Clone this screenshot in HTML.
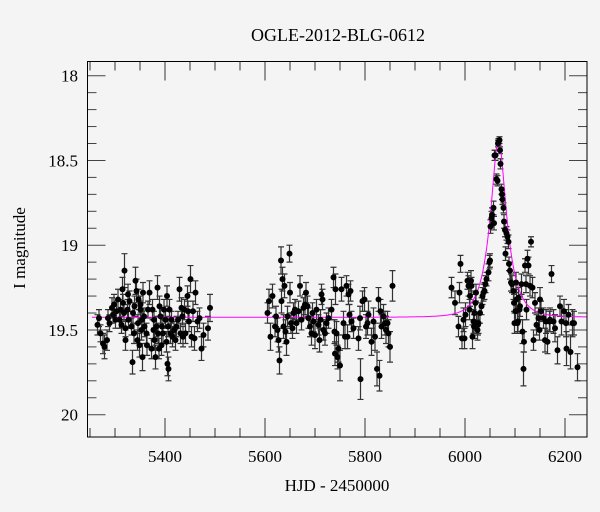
<!DOCTYPE html>
<html><head><meta charset="utf-8"><style>
html,body{margin:0;padding:0;background:#f4f4f4;}
svg{display:block;font-family:"Liberation Serif","DejaVu Serif",serif;}
</style></head><body>
<svg id="chart" width="600" height="512" viewBox="0 0 600 512">
<rect x="0" y="0" width="600" height="512" fill="#f4f4f4"/>
<text x="338" y="41" text-anchor="middle" font-size="18" fill="#000">OGLE-2012-BLG-0612</text>
<text x="337" y="491" text-anchor="middle" font-size="17" fill="#000">HJD - 2450000</text>
<text transform="translate(25,248) rotate(-90)" text-anchor="middle" font-size="17" fill="#000">I magnitude</text>
<g id="ticks"></g>
<g id="errs"></g>
<g id="model"></g>
<g id="pts"></g>
<rect x="87.5" y="61.5" width="499.5" height="375.5" fill="none" stroke="#000" stroke-width="1"/>
</svg>
<script>
const xTickLabels=[5400,5600,5800,6000,6200];
const yTickLabels=["18","18.5","19","19.5","20"];
const yTickValues=[18,18.5,19,19.5,20];
const modelParams={t0:6067,u0:0.405,tE:31,base:19.425};
const season1=[[5265,19.47,.06],[5268,19.43,.05],[5271,19.52,.05],[5276,19.58,.06],[5279,19.60,.07],[5284,19.56,.06],[5286,19.43,.05],[5289,19.46,.05],[5294,19.37,.06],[5296,19.41,.05],[5298,19.35,.06],[5301,19.44,.05],[5303,19.39,.06],[5306,19.32,.06],[5309,19.44,.05],[5311,19.38,.06],[5313,19.47,.05],[5315,19.26,.07],[5316,19.34,.05],[5318,19.40,.05],[5319,19.15,.1],[5321,19.49,.05],[5321,19.56,.06],[5325,19.38,.06],[5326,19.29,.06],[5327,19.44,.05],[5329,19.33,.06],[5333,19.48,.05],[5335,19.69,.07],[5336,19.40,.06],[5338,19.52,.06],[5339,19.36,.06],[5341,19.21,.08],[5343,19.27,.07],[5345,19.56,.06],[5346,19.46,.05],[5347,19.32,.06],[5349,19.59,.07],[5351,19.38,.05],[5351,19.35,.05],[5353,19.50,.06],[5354,19.44,.05],[5355,19.66,.08],[5356,19.28,.06],[5358,19.42,.05],[5359,19.48,.06],[5363,19.52,.06],[5364,19.59,.06],[5366,19.38,.05],[5369,19.28,.07],[5373,19.61,.06],[5375,19.38,.06],[5377,19.50,.06],[5378,19.44,.05],[5379,19.56,.06],[5381,19.66,.07],[5383,19.48,.06],[5385,19.25,.07],[5386,19.52,.06],[5388,19.61,.06],[5389,19.36,.06],[5391,19.42,.05],[5393,19.59,.06],[5394,19.48,.05],[5396,19.52,.06],[5398,19.38,.06],[5401,19.44,.05],[5403,19.57,.06],[5404,19.30,.06],[5405,19.70,.07],[5406,19.48,.06],[5407,19.73,.07],[5409,19.38,.06],[5411,19.52,.06],[5413,19.44,.05],[5415,19.54,.06],[5418,19.50,.05],[5421,19.56,.06],[5423,19.48,.06],[5426,19.44,.05],[5429,19.26,.07],[5431,19.52,.06],[5433,19.37,.06],[5435,19.42,.05],[5436,19.54,.06],[5439,19.38,.06],[5441,19.52,.06],[5445,19.30,.06],[5446,19.39,.06],[5448,19.45,.06],[5451,19.20,.08],[5453,19.54,.06],[5456,19.39,.06],[5459,19.55,.07],[5461,19.28,.07],[5465,19.45,.06],[5469,19.43,.06],[5473,19.61,.07],[5477,19.53,.07],[5486,19.49,.07],[5490,19.37,.08]];
const season2=[[5605,19.40,.06],[5608,19.33,.07],[5611,19.54,.08],[5615,19.30,.07],[5620,19.48,.06],[5622,19.42,.06],[5625,19.50,.07],[5627,19.56,.07],[5629,19.68,.08],[5632,19.09,.08],[5633,19.33,.07],[5635,19.20,.07],[5637,19.48,.07],[5639,19.24,.07],[5641,19.51,.07],[5643,19.57,.08],[5645,19.42,.06],[5649,19.05,.05],[5650,19.28,.06],[5652,19.46,.06],[5655,19.49,.06],[5657,19.40,.06],[5660,19.38,.06],[5663,19.46,.06],[5667,19.39,.06],[5670,19.24,.06],[5673,19.44,.06],[5677,19.37,.06],[5680,19.35,.06],[5682,19.28,.06],[5685,19.36,.06],[5687,19.43,.06],[5690,19.48,.06],[5693,19.52,.07],[5695,19.40,.06],[5697,19.45,.06],[5700,19.53,.08],[5703,19.38,.06],[5707,19.47,.06],[5709,19.56,.07],[5711,19.44,.06],[5713,19.29,.06],[5715,19.32,.06],[5717,19.50,.06],[5720,19.52,.07],[5723,19.46,.06],[5727,19.43,.06],[5733,19.38,.06],[5737,19.19,.06],[5739,19.51,.07],[5740,19.64,.07],[5741,19.26,.09],[5743,19.52,.07],[5745,19.66,.07],[5747,19.61,.08],[5750,19.71,.09],[5753,19.26,.07],[5757,19.46,.07],[5760,19.54,.07],[5763,19.24,.06],[5765,19.54,.07],[5767,19.29,.06],[5769,19.41,.06],[5771,19.27,.06],[5773,19.45,.06],[5777,19.49,.06],[5787,19.55,.07],[5790,19.43,.07],[5791,19.79,.12],[5795,19.33,.06],[5799,19.32,.07],[5802,19.48,.07],[5805,19.46,.07],[5807,19.41,.08],[5813,19.57,.08],[5817,19.45,.08],[5820,19.54,.08],[5824,19.73,.1],[5827,19.32,.07],[5829,19.77,.09],[5831,19.39,.07],[5833,19.48,.07],[5837,19.42,.07],[5840,19.46,.07],[5842,19.50,.08],[5845,19.46,.07],[5847,19.52,.08],[5850,19.60,.09],[5855,19.24,.09]];
const season3=[[5973,19.25,.06],[5980,19.34,.07],[5987,19.48,.06],[5989,19.28,.06],[5991,19.11,.05],[5994,19.55,.06],[5997,19.44,.07],[5999,19.55,.06],[6001,19.41,.07],[6005,19.21,.05],[6007,19.24,.06],[6009,19.38,.06],[6010,19.30,.06],[6012,19.21,.06],[6013,19.24,.05],[6015,19.54,.07],[6017,19.45,.07],[6018,19.48,.07],[6019,19.40,.06],[6021,19.34,.06],[6022,19.28,.05],[6023,19.46,.06],[6025,19.50,.06],[6026,19.47,.06],[6027,19.46,.06],[6030,19.40,.06],[6033,19.36,.05],[6035,19.30,.05],[6037,19.28,.05],[6039,19.27,.05],[6041,19.23,.05],[6043,19.20,.04],[6047,19.16,.05],[6049,19.10,.04],[6050,19.09,.04],[6051,18.89,.04],[6053,18.84,.04],[6054,18.82,.04],[6057,18.78,.04],[6058,18.87,.04],[6059,18.47,.03],[6061,18.47,.03],[6063,18.61,.03],[6065,18.62,.03],[6066,18.40,.02],[6067,18.39,.02],[6069,18.38,.02],[6070,18.44,.02],[6071,18.52,.03],[6073,18.67,.03],[6074,18.70,.03],[6075,18.73,.03],[6077,18.78,.03],[6078,18.86,.04],[6080,18.91,.04],[6081,19.05,.04],[6083,18.93,.04],[6085,18.95,.04],[6087,18.98,.04],[6088,19.11,.04],[6090,19.15,.05],[6092,19.22,.05],[6094,19.23,.05],[6097,19.27,.05],[6098,19.34,.05],[6099,19.46,.06],[6101,19.39,.06],[6102,19.22,.06],[6103,19.32,.06],[6105,19.46,.06],[6106,19.45,.06],[6107,19.31,.06],[6109,19.38,.06],[6110,19.36,.06],[6113,19.23,.06],[6115,19.51,.07],[6117,19.73,.1],[6118,19.57,.06],[6120,19.12,.04],[6122,19.23,.05],[6123,19.38,.06],[6125,19.08,.05],[6127,19.12,.05],[6130,19.24,.06],[6132,18.98,.03],[6135,19.25,.06],[6137,19.56,.06],[6140,19.34,.06],[6143,19.47,.06],[6147,19.43,.06],[6149,19.50,.06],[6150,19.32,.07],[6152,19.39,.06],[6157,19.43,.06],[6160,19.56,.07],[6162,19.45,.07],[6165,19.57,.07],[6169,19.45,.06],[6170,19.44,.07],[6173,19.17,.05],[6177,19.45,.07],[6180,19.49,.08],[6185,19.62,.08],[6190,19.36,.06],[6193,19.45,.08],[6198,19.39,.07],[6202,19.46,.08],[6203,19.61,.1],[6207,19.41,.06],[6211,19.63,.1],[6215,19.46,.08],[6218,19.46,.07],[6225,19.72,.08]];

const X0=87.5,X1=587,Y0=61.5,Y1=437;
const tMin=5244.6,tMax=6244;
function xs(t){return 165+(t-5400)*0.5;}
function ys(m){return 75.7+(m-18)*169.5;}
const NS="http://www.w3.org/2000/svg";
function mk(tag,attrs,parent){const e=document.createElementNS(NS,tag);for(const k in attrs)e.setAttribute(k,attrs[k]);parent.appendChild(e);return e;}
const tk=document.getElementById('ticks');
// x ticks
for(let t=5250;t<=6240;t+=50){
  const major=(t%200===0);const L=major?19:9;const x=xs(t);
  let l=mk('line',{x1:x,x2:x,y1:Y1,y2:Y1-L,stroke:'#333','stroke-width':1},tk);
  
  
  l=mk('line',{x1:x,x2:x,y1:Y0,y2:Y0+L,stroke:'#333','stroke-width':1},tk);
  
  
}
xTickLabels.forEach(v=>{
  const e=mk('text',{x:xs(v),y:462,'text-anchor':'middle','font-size':17,fill:'#000'},tk);e.textContent=v;
  
  
});
for(let i=0;i<=21;i++){
  const m=17.9+i*0.1;const y=ys(m);if(y<Y0+1||y>Y1-1)continue;
  const major=(i%5===1);const L=major?18:9;
  let l=mk('line',{x1:X0,x2:X0+L,y1:y,y2:y,stroke:'#444','stroke-width':1},tk);
  
  
  l=mk('line',{x1:X1,x2:X1-L,y1:y,y2:y,stroke:'#444','stroke-width':1},tk);
  
  
}
yTickValues.forEach((v,i)=>{
  const e=mk('text',{x:78,y:ys(v)+6,'text-anchor':'end','font-size':17,fill:'#000'},tk);e.textContent=yTickLabels[i];
  
  
});
// model curve
const mg=document.getElementById('model');
let d='';
for(let t=5254;t<=6244;t+=1){
  const tau=(t-modelParams.t0)/modelParams.tE;const u=Math.sqrt(modelParams.u0*modelParams.u0+tau*tau);
  const A=(u*u+2)/(u*Math.sqrt(u*u+4));const m=modelParams.base-2.5*Math.log10(A);
  d+=(d?'L':'M')+xs(t).toFixed(1)+','+ys(m).toFixed(1);
}
const mp=mk('path',{d:d,fill:'none',stroke:'#ff00ff','stroke-width':1},mg);


// points
const eg=document.getElementById('errs'),pg=document.getElementById('pts');
[season1,season2,season3].forEach(arr=>arr.forEach(p=>{
  const x=xs(p[0]),y=ys(p[1]),y1=ys(p[1]-p[2]),y2=ys(p[1]+p[2]);
  const g=mk('path',{d:`M${x},${y1}L${x},${y2}M${x-3},${y1}L${x+3},${y1}M${x-3},${y2}L${x+3},${y2}`,stroke:'#333','stroke-width':1.2,fill:'none'},eg);
  
  
  const c=mk('circle',{cx:x,cy:y,r:3,fill:'#000'},pg);
  
  
}));
</script>
</body></html>
